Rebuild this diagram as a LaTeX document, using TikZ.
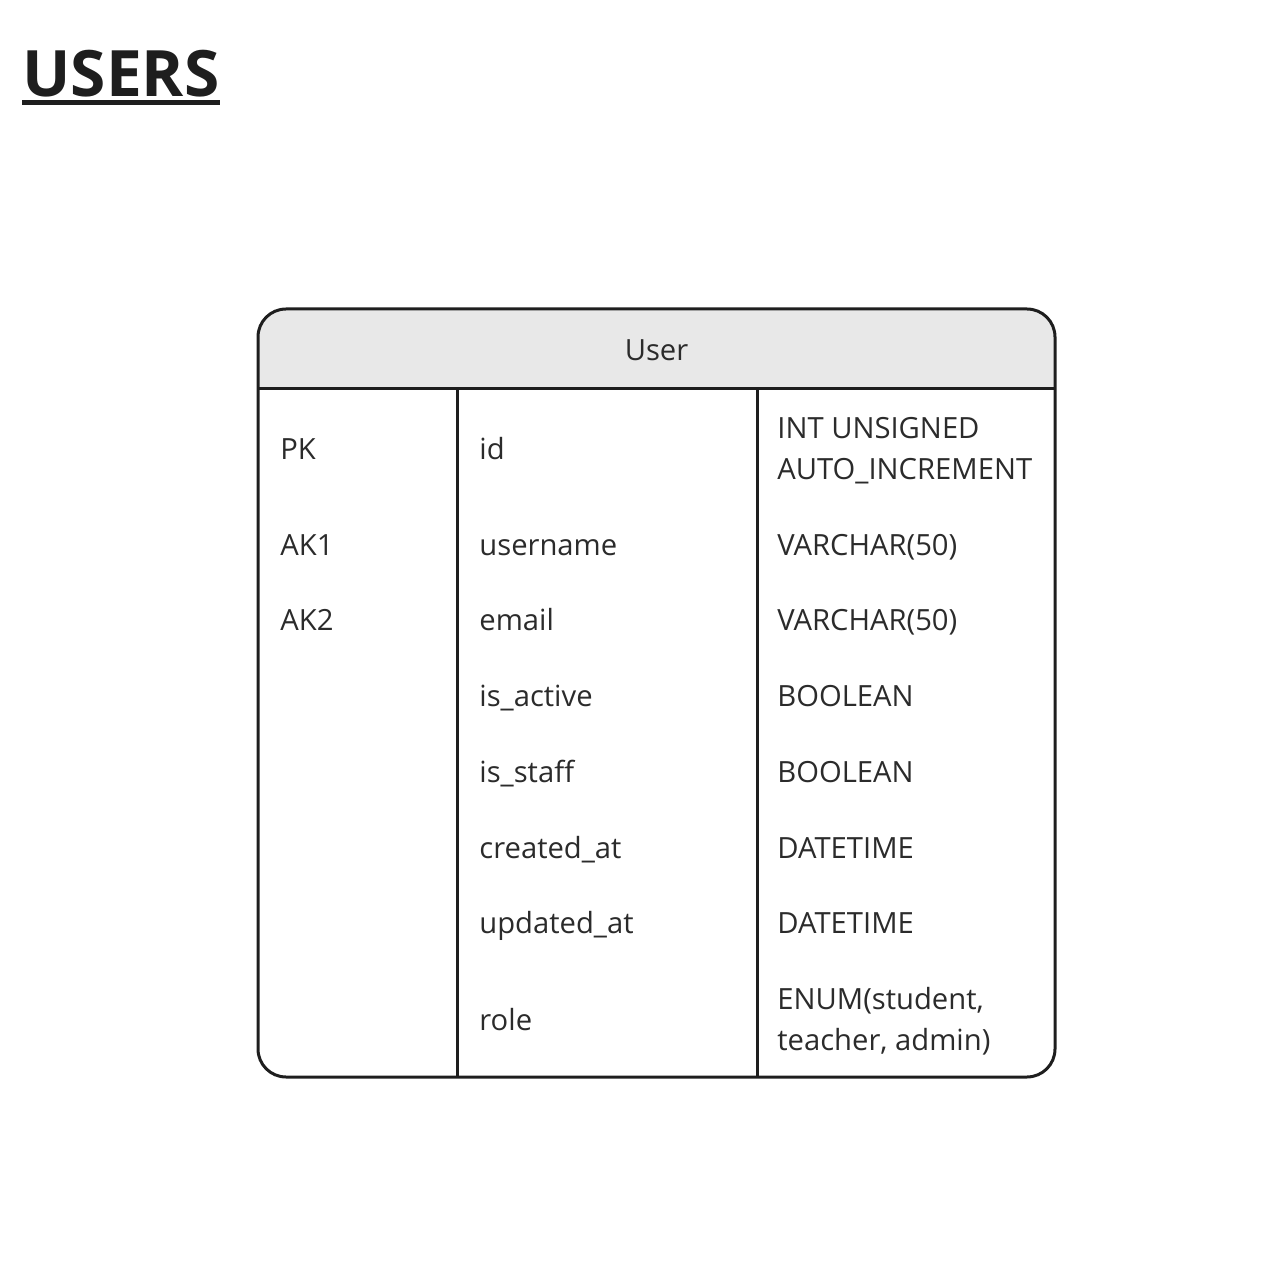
\documentclass[tikz,border=0pt]{standalone}
\usepackage{fontspec}
\setmainfont{Open Sans}
\definecolor{hdrgray}{HTML}{E8E8E8}
\definecolor{inkline}{HTML}{1E1E1E}
\definecolor{inktext}{HTML}{2B2B2B}
\tikzset{
	frame/.style={draw=inkline, line width=1.5pt},
	cell/.style={anchor=base west, inner sep=0pt, text=inktext, font=\fontsize{14.6}{20}\selectfont}
}
\begin{document}
\begin{tikzpicture}[x=0.5pt,y=-0.5pt]
		\useasboundingbox (0,0) rectangle (1280,1277);
		
		\node[anchor=base west, inner sep=0pt, text=inkline, font=\bfseries\fontsize{32}{40}\selectfont] (title) at (22,97) {USERS};
		\draw[inkline, line width=2.5pt] (title.west |- 0,103) -- (title.east |- 0,103);
		
		\fill[hdrgray] (258,389) [rounded corners=14] -- (258,309) -- (1055,309) [sharp corners] -- (1055,389) -- cycle;
		\draw[frame, rounded corners=14] (258,309) rectangle (1055,1077);
		\draw[frame] (258,389) -- (1055,389);
		\draw[frame] (457,389) -- (457,1077);
		\draw[frame] (757,389) -- (757,1077);
		
		\node[cell, anchor=center] (user) at (656.5,350) {User};
		
		\node[cell] (pk) at (280,460) {PK};
		\node[cell] (ak1) at (280,556) {AK1};
		\node[cell] (ak2) at (280,631) {AK2};
		
		\node[cell] (id) at (479,460) {id};
		\node[cell] (username) at (479,556) {username};
		\node[cell] (email) at (479,631) {email};
		\node[cell] (isactive) at (479,707) {is\_active};
		\node[cell] (isstaff) at (479,783) {is\_staff};
		\node[cell] (created) at (479,858) {created\_at};
		\node[cell] (updated) at (479,934) {updated\_at};
		\node[cell] (role) at (479,1030) {role};
		
		\node[cell] (idtype) at (777,439) {INT UNSIGNED};
		\node[cell] (idtypeb) at (777,480) {AUTO\_INCREMENT};
		\node[cell] (usertype) at (777,556) {VARCHAR(50)};
		\node[cell] (emailtype) at (777,631) {VARCHAR(50)};
		\node[cell] (activetype) at (777,707) {BOOLEAN};
		\node[cell] (stafftype) at (777,783) {BOOLEAN};
		\node[cell] (createdtype) at (777,858) {DATETIME};
		\node[cell] (updatedtype) at (777,934) {DATETIME};
		\node[cell] (roletype) at (777,1009) {ENUM(student,};
		\node[cell] (roletypeb) at (777,1050) {teacher, admin)};
	\end{tikzpicture}
\end{document}
